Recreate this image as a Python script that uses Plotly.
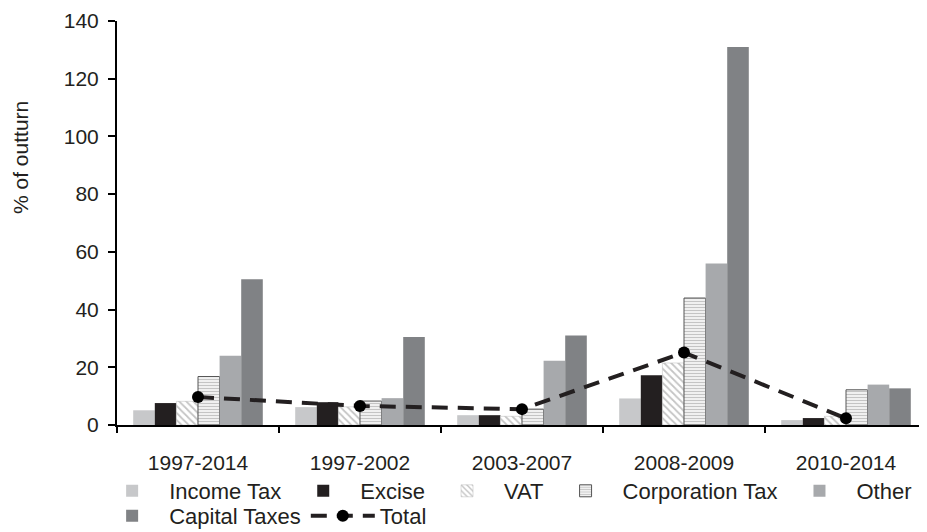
import plotly.graph_objects as go

categories = ["1997-2014", "1997-2002", "2003-2007", "2008-2009", "2010-2014"]
income_tax = [5.1, 6.2, 3.4, 9.2, 1.7]
excise = [7.6, 7.9, 3.4, 17.2, 2.4]
vat = [8.2, 6.3, 3.0, 21.5, 3.0]
corporation_tax = [16.8, 8.3, 5.5, 44.0, 12.2]
other = [24.0, 9.3, 22.3, 56.0, 14.0]
capital_taxes = [50.5, 30.5, 31.0, 131.0, 12.7]
total = [9.7, 6.6, 5.5, 25.1, 2.3]

FONT = "Liberation Sans, Arial, sans-serif"
FS = 21
LFS = 22

fig = go.Figure()
fig.add_bar(x=categories, y=income_tax, name="Income Tax", legend="legend",
            marker=dict(color="#c7c8ca", line=dict(width=0)))
fig.add_bar(x=categories, y=excise, name="Excise", legend="legend",
            marker=dict(color="#231f20", line=dict(width=0)))
fig.add_bar(x=categories, y=vat, name="VAT", legend="legend",
            marker=dict(color="white", line=dict(width=0.5, color="#bbbbbb"),
                        pattern=dict(shape="\\", fgcolor="#8a8a8a", bgcolor="white",
                                     size=5, solidity=0.35)))
fig.add_bar(x=categories, y=corporation_tax, name="Corporation Tax", legend="legend",
            marker=dict(color="white", line=dict(width=1, color="#555555"),
                        pattern=dict(shape="-", fgcolor="#8a8a8a", bgcolor="white",
                                     size=3, solidity=0.5)))
fig.add_bar(x=categories, y=other, name="Other", legend="legend",
            marker=dict(color="#a7a9ac", line=dict(width=0)))
fig.add_bar(x=categories, y=capital_taxes, name="Capital Taxes", legend="legend2",
            marker=dict(color="#808285", line=dict(width=0)))
fig.add_scatter(x=categories, y=total, name="Total", mode="lines+markers", legend="legend2",
                line=dict(color="#231f20", width=4, dash="16px,10px"),
                marker=dict(color="black", size=12))

leg_common = dict(orientation="h", xanchor="left", yanchor="middle",
                  font=dict(family=FONT, size=LFS, color="#231f20"),
                  itemwidth=64, tracegroupgap=0, traceorder="normal",
                  bgcolor="rgba(0,0,0,0)", borderwidth=0)

# the page body has an 8px default margin, so the figure is 8px smaller
T, B, H = 13, 107, 524
PH = H - T - B
fig.update_layout(
    width=919, height=H,
    margin=dict(l=109, r=0, t=T, b=B, autoexpand=False),
    paper_bgcolor="white", plot_bgcolor="white",
    barmode="group", bargap=0.2, bargroupgap=0,
    font=dict(family=FONT, size=FS, color="#231f20"),
    showlegend=True,
    legend=dict(x=-0.027, y=(417 - 483) / PH, **leg_common),
    legend2=dict(x=-0.027, y=(417 - 508) / PH, **leg_common),
    xaxis=dict(type="category", showline=True, linecolor="black", linewidth=2,
               ticks="outside", tickson="boundaries", ticklen=6, tickwidth=2,
               tickcolor="black", showgrid=False, zeroline=False, automargin=False,
               ticklabelstandoff=18, tickfont=dict(family=FONT, size=FS)),
    yaxis=dict(range=[0, 140], dtick=20, showline=True, linecolor="black", linewidth=2,
               ticks="outside", ticklen=7, tickwidth=2, tickcolor="black",
               showgrid=False, zeroline=False, automargin=False,
               ticklabeloverflow="allow",
               ticklabelstandoff=5, tickfont=dict(family=FONT, size=FS)),
    annotations=[dict(text="% of outturn", xref="paper", yref="paper",
                      x=(12 - 109) / 810, y=(417 - 150) / PH, textangle=-90,
                      showarrow=False, xanchor="center", yanchor="middle",
                      font=dict(family=FONT, size=FS, color="#231f20"))],
)

fig.write_html("out.html")
